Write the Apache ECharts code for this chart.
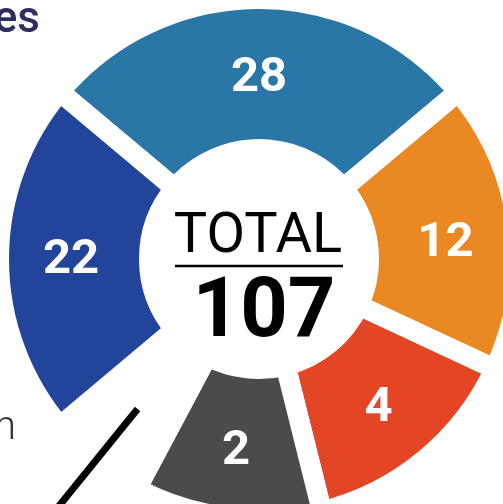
<!DOCTYPE html>
<html>
<head>
<meta charset="utf-8">
<style>
  html, body { margin: 0; padding: 0; background: #ffffff; }
  #chart { width: 503px; height: 504px; }
</style>
<script src="https://cdn.jsdelivr.net/npm/echarts@6/dist/echarts.min.js"></script>
</head>
<body>
<div id="chart"></div>
<script>
// ---- data ----
const categories   = ['Segment 1', 'Segment 2', 'Segment 3', 'Segment 4', 'Other', 'Segment 5'];
const counts       = [28, 12, 4, 2, null, 22];        // numbers printed on the ring
const arcDegrees   = [100, 65, 51, 42, 22, 80];       // angular share of each ring piece
const totalLabel   = 'TOTAL';
const totalValue   = 107;
const titleText    = 'es';
const sideText     = 'n';

const palette = ['#2a76a6', '#ea8822', '#e34525', '#4b4b4b', 'transparent', '#22449a'];
// small vertical nudges for the in-ring numbers (layout only)
const labelNudge = [8, 9, 5, 6, 0, 2];

const chart = echarts.init(document.getElementById('chart'), null, { renderer: 'canvas' });

const cx = 259, cy = 259;

const ringData = categories.map((name, i) => ({
  name: name,
  value: arcDegrees[i],
  count: counts[i],
  itemStyle: { color: palette[i] },
  label: { show: counts[i] !== null }
}));

const leaderData = categories.map((name, i) => ({
  name: name,
  value: arcDegrees[i],
  itemStyle: { color: 'transparent' },
  label: { show: counts[i] === null },
  labelLine: { show: counts[i] === null }
}));

const option = {
  animation: false,
  backgroundColor: '#ffffff',
  series: [
    {
      type: 'pie',
      center: [cx, cy],
      radius: [110, 260],
      startAngle: 140,
      clockwise: true,
      silent: true,
      itemStyle: { borderColor: '#ffffff', borderWidth: 20, borderJoin: 'miter' },
      label: {
        position: 'inside',
        formatter: p => String(p.data.count),
        color: '#ffffff',
        fontFamily: 'Roboto',
        fontWeight: 'bold',
        fontSize: 49
      },
      labelLayout: p => ({ dy: labelNudge[p.dataIndex] }),
      labelLine: { show: false },
      data: ringData
    },
    {
      type: 'pie',
      center: [cx, cy],
      radius: [0, 193],
      startAngle: 140,
      clockwise: true,
      silent: true,
      z: 5,
      label: {
        position: 'outside',
        formatter: p => p.name,
        color: '#333333',
        fontFamily: 'Roboto',
        fontSize: 20
      },
      labelLine: {
        length: 260,
        length2: 0,
        smooth: false,
        lineStyle: { color: '#000000', width: 7, cap: 'butt' }
      },
      data: leaderData
    }
  ],
  graphic: [
    {
      type: 'text',
      x: 258, y: 238,
      style: {
        text: totalLabel,
        x: 0, y: 0,
        align: 'center', verticalAlign: 'middle',
        fontFamily: 'Roboto', fontWeight: 'normal', fontSize: 56,
        fill: '#000000'
      }
    },
    {
      type: 'line',
      shape: { x1: cx - 84, y1: 266, x2: cx + 84, y2: 266 },
      style: { stroke: '#000000', lineWidth: 2.5 }
    },
    {
      type: 'text',
      x: 264, y: 315,
      style: {
        text: String(totalValue),
        x: 0, y: 0,
        align: 'center', verticalAlign: 'middle',
        fontFamily: 'Roboto', fontWeight: 'bold', fontSize: 83,
        fill: '#000000'
      }
    },
    {
      type: 'text',
      x: 40, y: 21,
      style: {
        text: titleText,
        align: 'right', verticalAlign: 'middle',
        fontFamily: 'Roboto', fontWeight: 500, fontSize: 44,
        fill: '#2c2e5e'
      }
    },
    {
      type: 'text',
      x: 16, y: 429,
      style: {
        text: sideText,
        align: 'right', verticalAlign: 'middle',
        fontFamily: 'Roboto', fontWeight: 300, fontSize: 40,
        fill: '#333333'
      }
    }
  ]
};

chart.setOption(option);
</script>
</body>
</html>
